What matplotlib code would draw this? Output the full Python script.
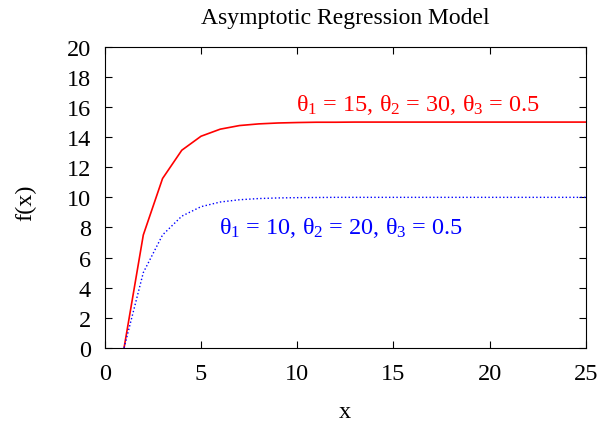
import matplotlib
matplotlib.use('Agg')
import matplotlib.pyplot as plt

plt.rcParams['font.family'] = ['Liberation Serif', 'DejaVu Serif']
plt.rcParams['mathtext.fontset'] = 'custom'
plt.rcParams['mathtext.rm'] = 'Liberation Serif'
plt.rcParams['mathtext.it'] = 'Liberation Serif'
plt.rcParams['mathtext.default'] = 'regular'

# values read at integer x
x_vals = list(range(1, 26))
red_vals = [0, 7.5, 11.25, 13.13, 14.06, 14.53, 14.77, 14.88, 14.94, 14.97,
            14.99, 14.99, 15.0, 15.0, 15.0, 15.0, 15.0, 15.0, 15.0, 15.0,
            15.0, 15.0, 15.0, 15.0, 15.0]
blue_vals = [0, 5.0, 7.5, 8.75, 9.38, 9.69, 9.84, 9.92, 9.96, 9.98,
             9.99, 10.0, 10.0, 10.0, 10.0, 10.0, 10.0, 10.0, 10.0, 10.0,
             10.0, 10.0, 10.0, 10.0, 10.0]

red_label = r'$\theta_1$ = 15, $\theta_2$ = 30, $\theta_3$ = 0.5'
blue_label = r'$\theta_1$ = 10, $\theta_2$ = 20, $\theta_3$ = 0.5'

fig = plt.figure(figsize=(5.99, 4.27), dpi=100)
ax = fig.add_axes([0.175, 0.183, 0.803, 0.705])

ax.plot(x_vals, red_vals, color='red', linewidth=1.2)
ax.plot(x_vals, blue_vals, color='blue', linewidth=1.0, linestyle=':')

ax.text(16.3, 16.2, red_label, color='red', fontsize=17.5, ha='center', va='center')
ax.text(12.3, 8.0, blue_label, color='blue', fontsize=17.5, ha='center', va='center')

ax.set_xlim(0, 25)
ax.set_ylim(0, 20)
ax.set_xticks(range(0, 26, 5))
ax.set_yticks(range(0, 21, 2))
ax.tick_params(direction='in', top=True, right=True, labelsize=17.5, length=5)
ax.tick_params(axis='x', pad=11)
ax.tick_params(axis='y', pad=10)
ax.set_xlabel('x', fontsize=17.5, labelpad=12)
ax.set_ylabel('f(x)', fontsize=17.5, labelpad=22)
ax.yaxis.label.set_y(0.485)
ax.set_title('Asymptotic Regression Model', fontsize=17, pad=17)

fig.savefig('out.png', dpi=100)
